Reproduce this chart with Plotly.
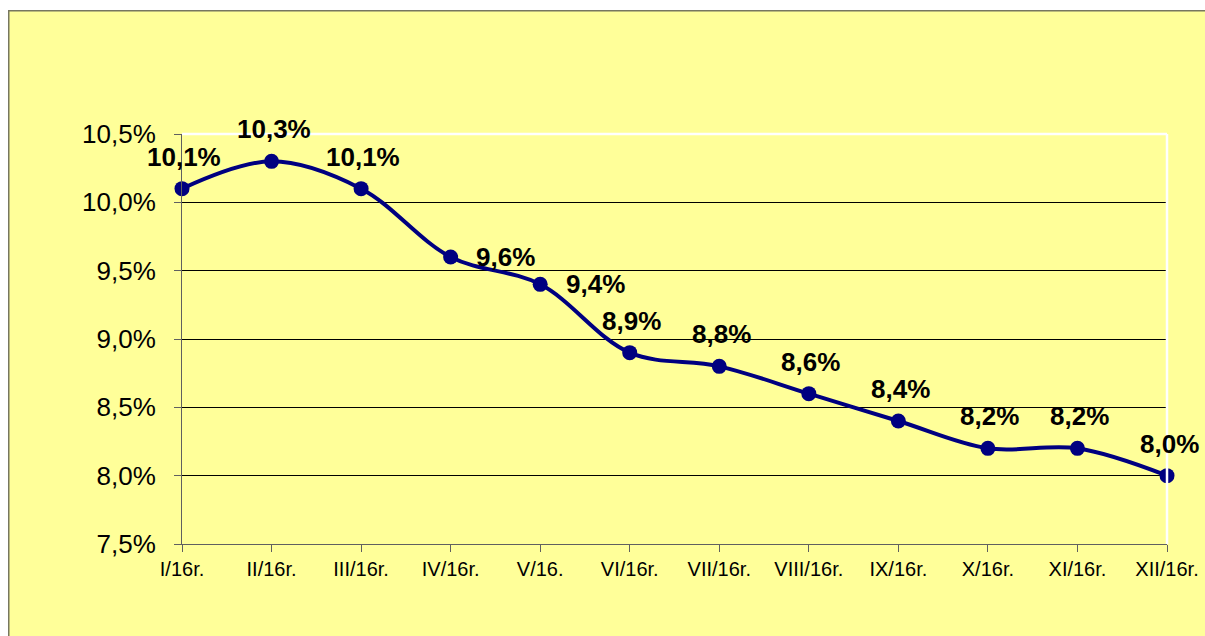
import plotly.graph_objects as go

categories = ["I/16r.", "II/16r.", "III/16r.", "IV/16r.", "V/16.", "VI/16r.",
              "VII/16r.", "VIII/16r.", "IX/16r.", "X/16r.", "XI/16r.", "XII/16r."]
values = [10.1, 10.3, 10.1, 9.6, 9.4, 8.9, 8.8, 8.6, 8.4, 8.2, 8.2, 8.0]
label_side = ["top", "top", "top", "right", "right", "top",
              "top", "top", "top", "top", "top", "top"]
y_ticks = [7.5, 8.0, 8.5, 9.0, 9.5, 10.0, 10.5]
y_tick_labels = ["7,5%", "8,0%", "8,5%", "9,0%", "9,5%", "10,0%", "10,5%"]

labels = [f"{v:.1f}%".replace(".", ",") for v in values]

W, H = 1205, 636
L, R, T, B = 182, 1167, 134, 544
pw, ph = R - L, B - T

def px_x(p):
    return (p - L) / pw

def px_y(p):
    return (B - p) / ph

FONT = "Liberation Sans, Arial, sans-serif"

fig = go.Figure()
fig.add_trace(go.Scatter(
    x=categories, y=values,
    mode="lines+markers",
    line=dict(color="#000080", width=4, shape="spline", smoothing=1),
    marker=dict(color="#000080", size=15),
    cliponaxis=False,
    hoverinfo="skip",
))

annotations = []
for c, v, t, side in zip(categories, values, labels, label_side):
    if side == "top":
        xs, ys = 2, 32
    else:
        xs, ys = 55, 0
    annotations.append(dict(
        x=c, y=v, xref="x", yref="y", text=t, showarrow=False,
        xanchor="center", yanchor="middle", xshift=xs, yshift=ys,
        font=dict(family=FONT, size=26, color="black", weight="bold"),
    ))

fig.update_layout(
    width=W, height=H,
    margin=dict(l=L, r=W - R, t=T, b=H - B, pad=0, autoexpand=False),
    paper_bgcolor="white",
    plot_bgcolor="rgba(0,0,0,0)",
    showlegend=False,
    font=dict(family=FONT, color="black"),
    annotations=annotations,
    shapes=[
        dict(type="rect", xref="paper", yref="paper", layer="below",
             x0=px_x(8.75), x1=px_x(W + 10), y0=px_y(H + 10), y1=px_y(10.75),
             fillcolor="#FFFF99", line=dict(color="#777760", width=1.5)),
        dict(type="line", xref="paper", yref="paper", layer="above",
             x0=0, x1=1, y0=1, y1=1, line=dict(color="white", width=2.5)),
        dict(type="line", xref="paper", yref="paper", layer="above",
             x0=1, x1=1, y0=0, y1=1, line=dict(color="white", width=2.5)),
    ],
)

fig.update_xaxes(
    type="category",
    range=[0, len(categories) - 1],
    automargin=False,
    showgrid=False,
    showline=True, linecolor="#606060", linewidth=1,
    ticks="outside", ticklen=7, tickcolor="#606060",
    tickfont=dict(size=20, color="black"),
    zeroline=False,
)
fig.update_yaxes(
    range=[7.5, 10.5],
    automargin=False,
    tickvals=y_ticks, ticktext=y_tick_labels,
    showgrid=True, gridcolor="black", gridwidth=1,
    showline=True, linecolor="#606060", linewidth=1,
    ticks="outside", ticklen=7, tickcolor="#606060",
    tickfont=dict(size=26, color="black"),
    ticklabelstandoff=13,
    zeroline=False,
)

fig.write_html(
    "out.html",
    config={"displayModeBar": False},
    post_script="document.body.style.margin='0';document.body.style.overflow='hidden';",
)
